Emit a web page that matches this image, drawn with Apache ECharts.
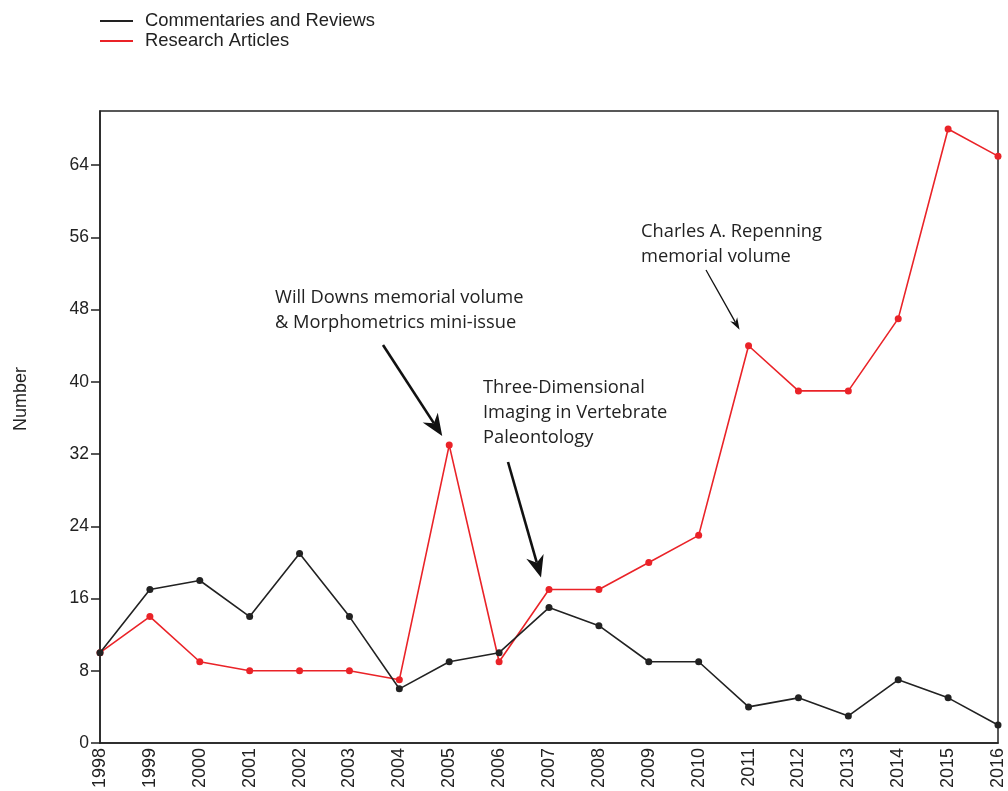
<!DOCTYPE html>
<html>
<head>
<meta charset="utf-8">
<script src="https://cdn.jsdelivr.net/npm/echarts@6/dist/echarts.min.js"></script>
<style>html,body{margin:0;padding:0;background:#fff}#c{width:1008px;height:791px}</style>
</head>
<body>
<div id="c"></div>
<script>
const years = ['1998','1999','2000','2001','2002','2003','2004','2005','2006','2007','2008','2009','2010','2011','2012','2013','2014','2015','2016'];
const commentaries = [10,17,18,14,21,14,6,9,10,15,13,9,9,4,5,3,7,5,2];
const research = [10,14,9,8,8,8,7,33,9,17,17,20,23,44,39,39,47,68,65];
const yTicks = [0,8,16,24,32,40,48,56,64];

const chart = echarts.init(document.getElementById('c'));
const font = 'Liberation Sans, Arial, sans-serif';
const annFont = '"Open Sans", "Noto Sans", sans-serif';

chart.setOption({
  animation: false,
  backgroundColor: '#fff',
  legend: {
    orient: 'vertical', left: 95, top: 7, itemGap: 2, itemWidth: 33, itemHeight: 2,
    icon: 'rect',
    textStyle: { fontFamily: font, fontSize: 18.4, color: '#222', padding: [0,0,0,7] },
    data: ['Commentaries and Reviews', 'Research Articles']
  },
  grid: { left: 100, right: 10, top: 111, bottom: 48, show: true, borderColor: '#222', borderWidth: 1.5, containLabel: false, outerBoundsMode: 'none' },
  xAxis: {
    type: 'category', data: years, boundaryGap: false,
    axisLine: { lineStyle: { color: '#222', width: 1.5 } },
    axisTick: { show: false },
    axisLabel: { rotate: 90, fontFamily: font, fontSize: 18, color: '#222', margin: 5, interval: 0 }
  },
  yAxis: {
    type: 'value', min: 0, max: 70, interval: 8,
    splitLine: { show: false },
    axisLine: { show: true, lineStyle: { color: '#222', width: 1.5 } },
    axisTick: { show: true, length: 9, lineStyle: { color: '#222', width: 1.5 }, customValues: yTicks },
    axisLabel: { fontFamily: font, fontSize: 17.5, color: '#222', margin: 11, customValues: yTicks }
  },
  series: [
    { name: 'Commentaries and Reviews', type: 'line', data: commentaries, symbol: 'circle', symbolSize: 7,
      lineStyle: { color: '#222', width: 1.6 }, itemStyle: { color: '#222' }, color: '#222', z: 3 },
    { name: 'Research Articles', type: 'line', data: research, symbol: 'circle', symbolSize: 7,
      lineStyle: { color: '#ea2328', width: 1.6 }, itemStyle: { color: '#ea2328' }, color: '#ea2328', z: 2 }
  ]
});

function arrow(x1, y1, x2, y2, w, headL, headW) {
  const dx = x2 - x1, dy = y2 - y1, L = Math.sqrt(dx*dx + dy*dy);
  const ux = dx / L, uy = dy / L, px = -uy, py = ux;
  const bx = x2 - ux * headL, by = y2 - uy * headL;
  const nx = x2 - ux * headL * 0.7, ny = y2 - uy * headL * 0.7;
  return [
    { type: 'line', shape: { x1: x1, y1: y1, x2: nx, y2: ny }, style: { stroke: '#111', lineWidth: w } },
    { type: 'polygon', shape: { points: [[x2, y2], [bx + px * headW, by + py * headW], [nx, ny], [bx - px * headW, by - py * headW]] }, style: { fill: '#111' } }
  ];
}
function txt(x, y, lines) {
  return { type: 'text', left: x, top: y, style: { text: lines.join('\n'), font: '18.3px ' + annFont, fill: '#222', lineHeight: 25 } };
}

const p2005 = chart.convertToPixel({ gridIndex: 0 }, ['2005', research[7]]);
const p2007 = chart.convertToPixel({ gridIndex: 0 }, ['2007', research[9]]);
const p2011 = chart.convertToPixel({ gridIndex: 0 }, ['2011', research[13]]);

const g = [];
g.push({ type: 'text', x: 21, y: 399, rotation: Math.PI / 2,
  style: { text: 'Number', font: '18px ' + font, fill: '#222', align: 'center', verticalAlign: 'middle' } });
g.push(txt(275, 285, ['Will Downs memorial volume', '& Morphometrics mini-issue']));
g.push(...arrow(383, 345, p2005[0] - 7, p2005[1] - 9, 2.6, 22, 9));
g.push(txt(483, 375, ['Three-Dimensional', 'Imaging in Vertebrate', 'Paleontology']));
g.push(...arrow(508, 462, p2007[0] - 8, p2007[1] - 12, 2.6, 22, 9));
g.push(txt(641, 219, ['Charles A. Repenning', 'memorial volume']));
g.push(...arrow(706, 270, p2011[0] - 9, p2011[1] - 16, 1.3, 12, 4));
chart.setOption({ graphic: g });
</script>
</body>
</html>
